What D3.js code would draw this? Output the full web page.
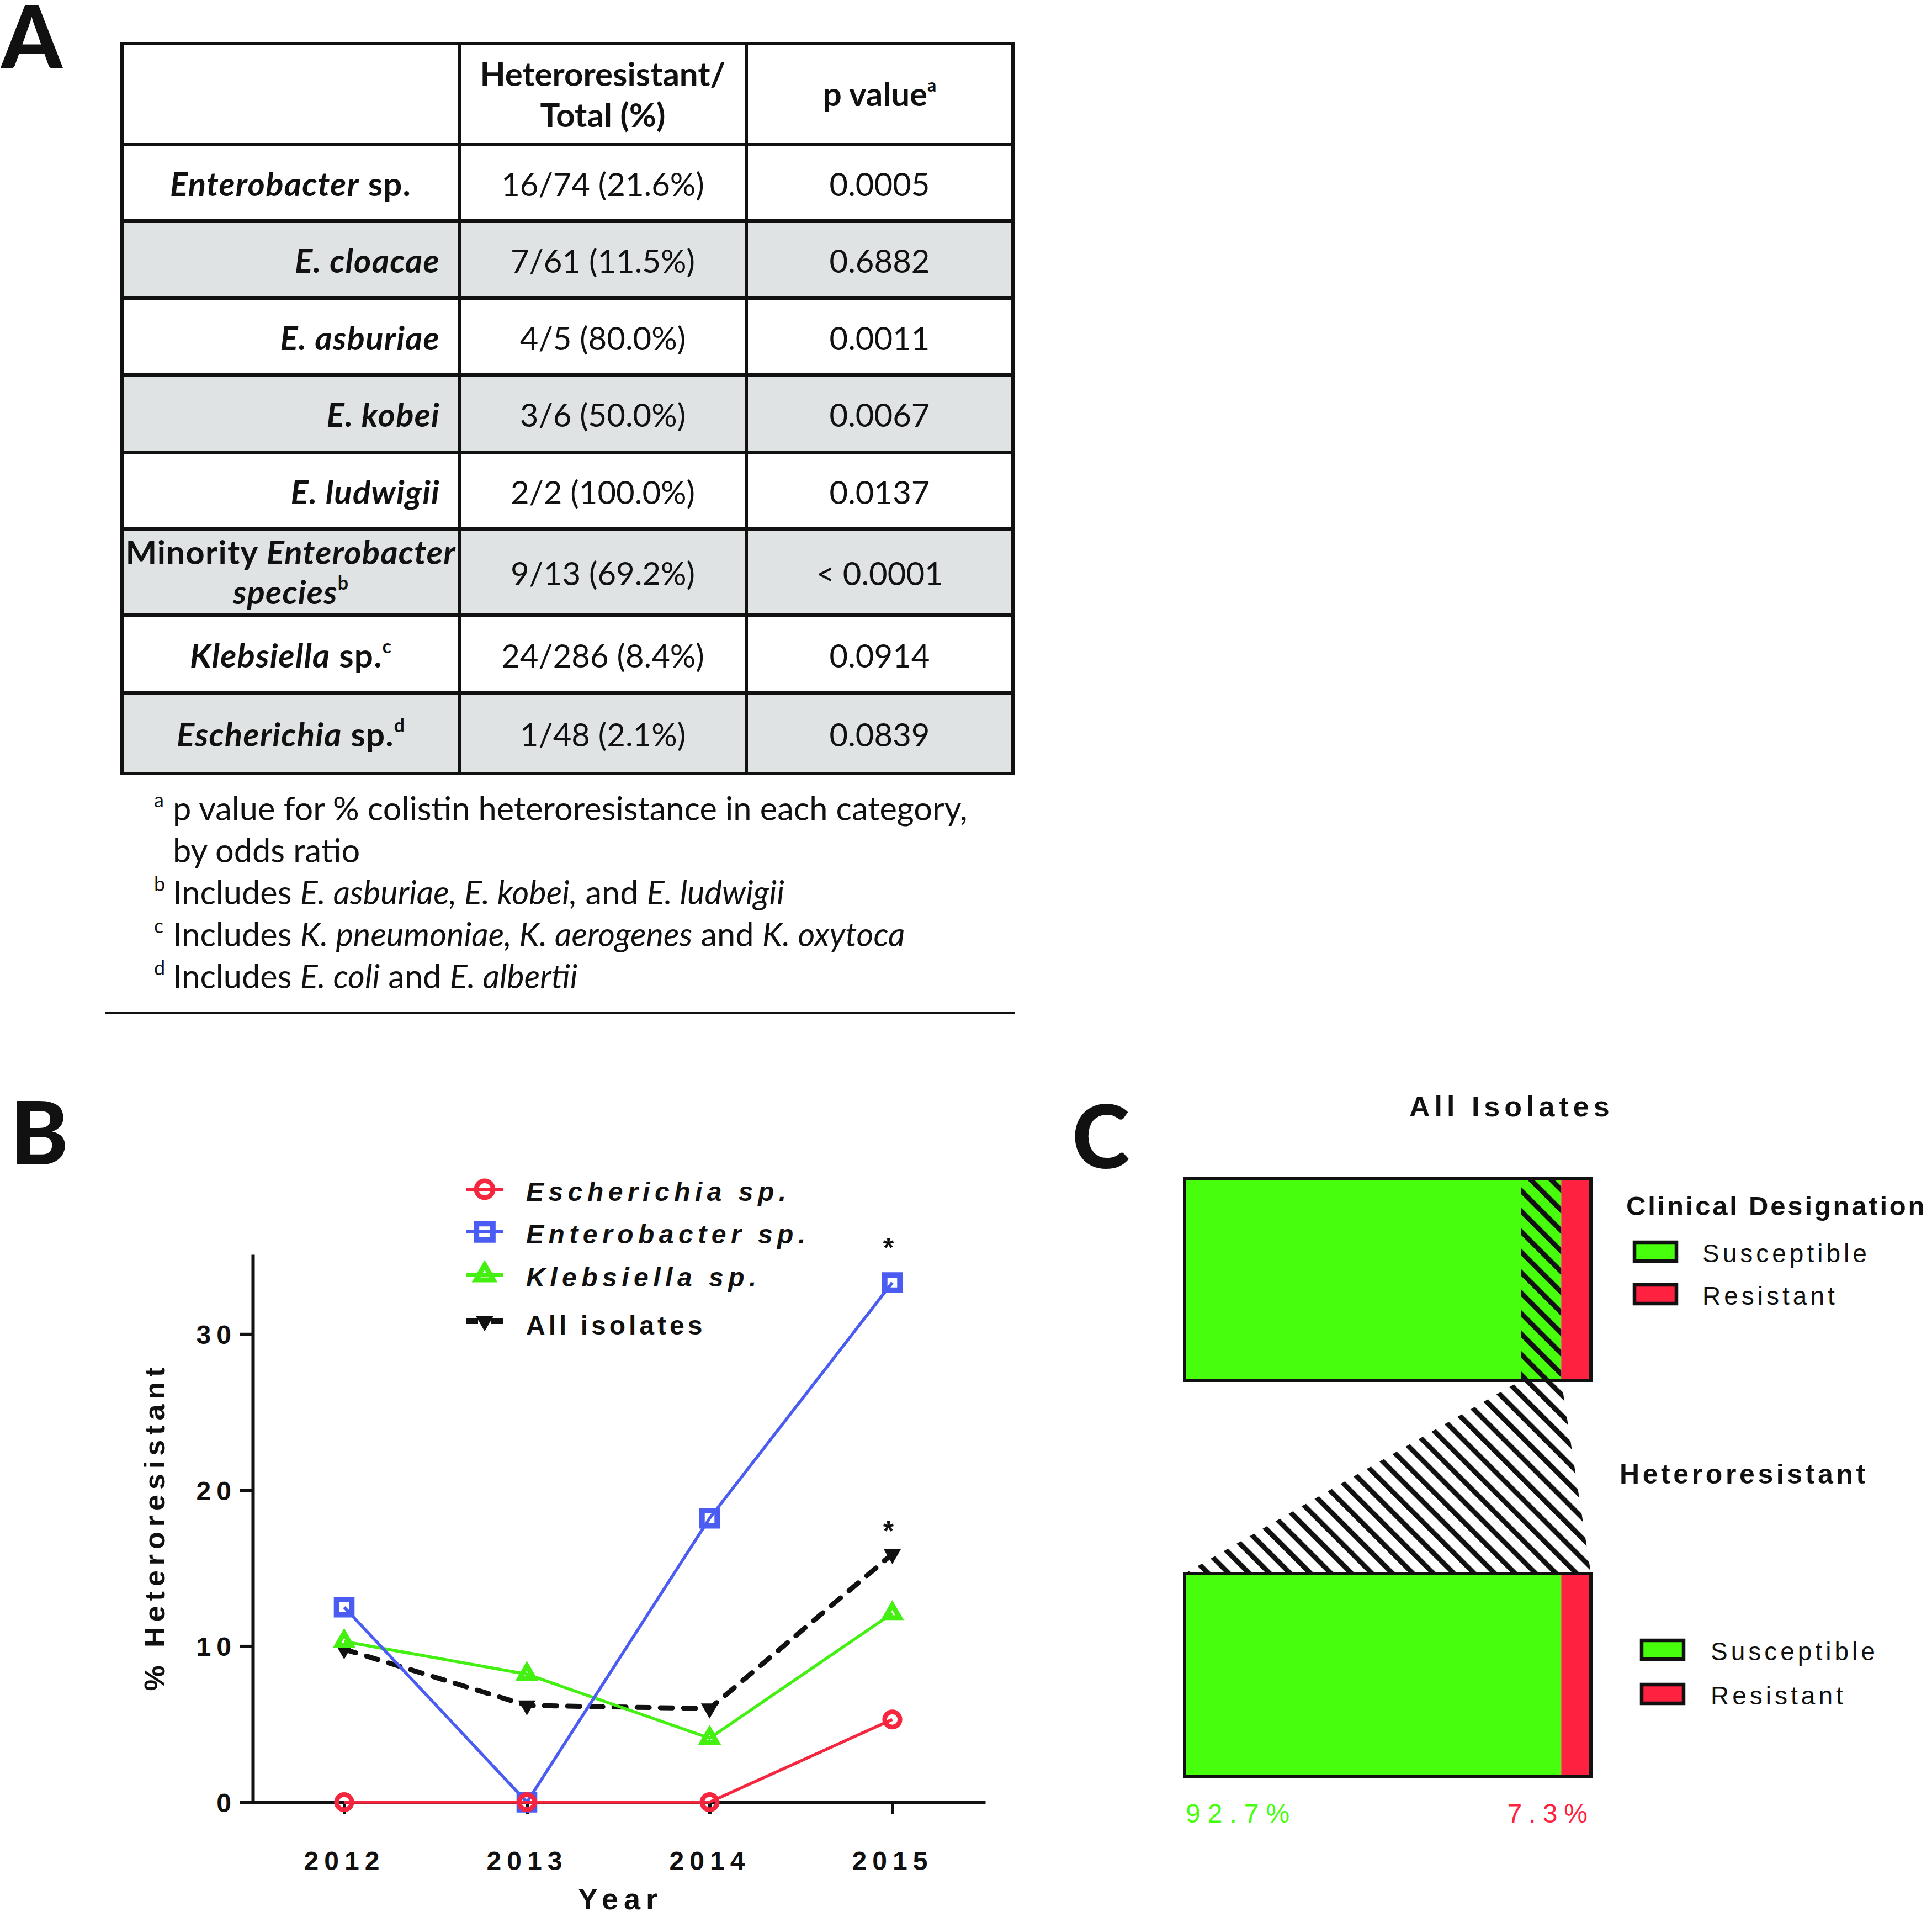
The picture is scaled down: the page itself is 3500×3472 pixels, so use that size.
<!DOCTYPE html>
<html>
<head>
<meta charset="utf-8">
<script src="https://cdn.jsdelivr.net/npm/d3@7"></script>
<style>
  body { margin: 0; background: #fff; }
  svg { display: block; }
  text { white-space: pre; }
</style>
</head>
<body>
<svg id="fig" width="3500" height="3472"></svg>
<script>
// ---------- panel A data ----------
// label parts: [text, style]  b = bold, i = italic, s = superscript
const speciesLabels = [
  [['Enterobacter', 'bi'], [' sp.', 'b']],
  [['E. cloacae', 'bi']],
  [['E. asburiae', 'bi']],
  [['E. kobei', 'bi']],
  [['E. ludwigii', 'bi']],
  [['Minority ', 'b'], ['Enterobacter', 'bi']],
  [['Klebsiella', 'bi'], [' sp.', 'b'], ['c', 'bs']],
  [['Escherichia', 'bi'], [' sp.', 'b'], ['d', 'bs']]
];
const heteroTotals = ['16/74 (21.6%)', '7/61 (11.5%)', '4/5 (80.0%)', '3/6 (50.0%)',
  '2/2 (100.0%)', '9/13 (69.2%)', '24/286 (8.4%)', '1/48 (2.1%)'];
const pValues = ['0.0005', '0.6882', '0.0011', '0.0067', '0.0137', '< 0.0001', '0.0914', '0.0839'];
const footnotes = [
  ['a', [['p value for % colistin heteroresistance in each category,', '']]],
  ['', [['by odds ratio', '']]],
  ['b', [['Includes ', ''], ['E. asburiae, E. kobei,', 'i'], [' and ', ''], ['E. ludwigii', 'i']]],
  ['c', [['Includes ', ''], ['K. pneumoniae, K. aerogenes', 'i'], [' and ', ''], ['K. oxytoca', 'i']]],
  ['d', [['Includes ', ''], ['E. coli', 'i'], [' and ', ''], ['E. albertii', 'i']]]
];

// ---------- panel B data ----------
const years = [2012, 2013, 2014, 2015];
const escherichiaPct = [0, 0, 0, 5.3];
const enterobacterPct = [12.5, 0, 18.2, 33.3];
const klebsiellaPct = [10.3, 8.2, 4.1, 12.1];
const allIsolatesPct = [9.8, 6.2, 6.0, 15.9];
const seriesNames = ['Escherichia sp.', 'Enterobacter sp.', 'Klebsiella sp.', 'All isolates'];
const yTickValues = [0, 10, 20, 30];

// ---------- panel C data ----------
const designations = ['Susceptible', 'Resistant'];
const clinicalPct = [92.7, 7.3];
const heteroresistantPct = [92.7, 7.3];
const heteroOfAllPct = 9.9;

const svg = d3.select('#fig');
const calibri = 'Lato, sans-serif';
const arial = '"Liberation Sans", Arial, sans-serif';

function rich(sel, parts, supSize) {
  parts.forEach(p => {
    const t = sel.append('tspan').text(p[0]);
    if (p[1].includes('b')) t.attr('font-weight', 'bold');
    if (p[1].includes('i')) t.attr('font-style', 'italic');
    if (p[1].includes('s')) t.attr('font-size', supSize || 34).attr('dy', -26).attr('letter-spacing', 0);
  });
  return sel;
}

// panel letters
[['A', 2, 124], ['B', 19, 2109], ['C', 1942, 2116]].forEach(l => {
  svg.append('text').attr('x', l[1]).attr('y', l[2]).text(l[0])
    .attr('font-family', calibri).attr('font-weight', 900).attr('font-size', 158).attr('fill', '#111');
});

// ================= PANEL A (table) =================
const colEdges = [221, 832, 1352, 1835];
const rowEdges = [79, 262, 400, 540, 679, 819, 958, 1114, 1255, 1401];
const tbl = svg.append('g').attr('font-family', calibri).attr('font-size', 58).attr('fill', '#111');

speciesLabels.forEach((lab, i) => {
  if (i % 2 === 1) {
    tbl.append('rect').attr('x', colEdges[0]).attr('y', rowEdges[i + 1])
      .attr('width', colEdges[3] - colEdges[0]).attr('height', rowEdges[i + 2] - rowEdges[i + 1])
      .attr('fill', '#dfe3e3');
  }
});

// header
const hx2 = (colEdges[1] + colEdges[2]) / 2, hx3 = (colEdges[2] + colEdges[3]) / 2;
tbl.append('text').attr('x', hx2).attr('y', 156).attr('text-anchor', 'middle').attr('font-weight', 'bold')
  .attr('font-size', 60).text('Heteroresistant/');
tbl.append('text').attr('x', hx2).attr('y', 230).attr('text-anchor', 'middle').attr('font-weight', 'bold')
  .attr('font-size', 60).text('Total (%)');
rich(tbl.append('text').attr('x', hx3).attr('y', 192).attr('text-anchor', 'middle').attr('font-size', 60),
  [['p value', 'b'], ['a', 'bs']], 32);

const labelX = (colEdges[0] + colEdges[1]) / 2;
speciesLabels.forEach((lab, i) => {
  const cy = (rowEdges[i + 1] + rowEdges[i + 2]) / 2;
  const base = cy + 24;
  const centred = i === 0 || i >= 5;
  if (i === 5) {
    rich(tbl.append('text').attr('x', labelX).attr('y', 1022).attr('text-anchor', 'middle')
      .attr('font-size', 60).attr('letter-spacing', 1.2), lab);
    rich(tbl.append('text').attr('x', labelX).attr('y', 1094).attr('text-anchor', 'middle')
      .attr('font-size', 60).attr('letter-spacing', 1.2), [['species', 'bi'], ['b', 'bs']]);
  } else {
    rich(tbl.append('text').attr('x', centred ? labelX : 797).attr('y', base)
      .attr('font-size', 60).attr('letter-spacing', 1.2)
      .attr('text-anchor', centred ? 'middle' : 'end'), lab);
  }
  tbl.append('text').attr('x', hx2).attr('y', base).attr('text-anchor', 'middle').text(heteroTotals[i]);
  tbl.append('text').attr('x', hx3).attr('y', base).attr('text-anchor', 'middle').text(pValues[i]);
});

rowEdges.forEach(y => {
  tbl.append('line').attr('x1', colEdges[0]).attr('x2', colEdges[3]).attr('y1', y).attr('y2', y)
    .attr('stroke', '#111').attr('stroke-width', 6).attr('stroke-linecap', 'square');
});
colEdges.forEach(x => {
  tbl.append('line').attr('x1', x).attr('x2', x).attr('y1', rowEdges[0]).attr('y2', rowEdges[rowEdges.length - 1])
    .attr('stroke', '#111').attr('stroke-width', 6).attr('stroke-linecap', 'square');
});

footnotes.forEach((f, i) => {
  const base = 1486 + i * 76;
  if (f[0]) tbl.append('text').attr('x', 279).attr('y', base - 24).attr('font-size', 36).text(f[0]);
  rich(tbl.append('text').attr('x', 313).attr('y', base).attr('font-size', 59.5), f[1]);
});
tbl.append('line').attr('x1', 190).attr('x2', 1838).attr('y1', 1834).attr('y2', 1834)
  .attr('stroke', '#111').attr('stroke-width', 4);

// ================= PANEL B (line chart) =================
const x = d3.scalePoint().domain(years).range([458, 1782]).padding(0.5);
const y = d3.scaleLinear().domain([0, 35]).range([3264, 2275]);
const gB = svg.append('g');

const yAxis = gB.append('g').attr('transform', 'translate(458,0)')
  .call(d3.axisLeft(y).tickValues(yTickValues).tickSizeInner(21).tickSizeOuter(0).tickPadding(8));
const xAxis = gB.append('g').attr('transform', 'translate(0,3264)')
  .call(d3.axisBottom(x).tickSizeInner(18).tickSizeOuter(0).tickPadding(71));
[yAxis, xAxis].forEach(ax => {
  ax.attr('font-family', arial).attr('font-size', 48).attr('font-weight', 'bold');
  ax.selectAll('path, line').attr('stroke', '#111').attr('stroke-width', 6).attr('stroke-linecap', 'square');
  ax.selectAll('text').attr('fill', '#111').attr('letter-spacing', 10);
});
yAxis.selectAll('text').attr('dy', '0.36em');

gB.append('text').attr('transform', 'translate(298,2765) rotate(-90)').attr('text-anchor', 'middle')
  .attr('font-family', arial).attr('font-weight', 'bold').attr('font-size', 52).attr('letter-spacing', 9)
  .attr('fill', '#111').text('% Heteroresistant');
gB.append('text').attr('x', 1124).attr('y', 3458).attr('text-anchor', 'middle')
  .attr('font-family', arial).attr('font-weight', 'bold').attr('font-size', 54).attr('letter-spacing', 10)
  .attr('fill', '#111').text('Year');

const seriesValues = [escherichiaPct, enterobacterPct, klebsiellaPct, allIsolatesPct];
const series = seriesNames.map((name, i) => ({ name, values: seriesValues[i] }));
const styles = [
  { color: '#f5263e', type: d3.symbolCircle, size: 600, fill: 'none', sw: 8.5, lw: 5.5 },
  { color: '#4a5cf2', type: d3.symbolSquare, size: 760, fill: 'none', sw: 10, lw: 5.5 },
  { color: '#44f012', type: d3.symbolTriangle, size: 300, fill: 'none', sw: 9, lw: 5.5 },
  { color: '#111111', type: d3.symbolTriangle, size: 430, fill: '#111111', sw: 0, lw: 9, dash: '22 20', flip: true, star: -52 }
];
styles[1].star = -73;

const line = d3.line().x((d, i) => x(years[i])).y(d => y(d));
[3, 2, 1, 0].forEach(si => {
  const s = series[si], st = styles[si];
  const g = gB.append('g');
  g.append('path').attr('d', line(s.values)).attr('fill', 'none').attr('stroke', st.color)
    .attr('stroke-width', st.lw).attr('stroke-dasharray', st.dash || null)
    .attr('stroke-linecap', st.dash ? 'round' : 'butt');
  g.selectAll('path.mark').data(s.values).enter().append('path').attr('class', 'mark')
    .attr('d', d3.symbol().type(st.type).size(st.size)())
    .attr('transform', (d, i) => `translate(${x(years[i])},${y(d)})${st.flip ? ' rotate(180)' : ''}`)
    .attr('fill', st.fill).attr('stroke', st.sw ? st.color : 'none').attr('stroke-width', st.sw);
  if (st.star) {
    const last = s.values.length - 1;
    g.append('text').attr('x', x(years[last]) - 7).attr('y', y(s.values[last]) + st.star + 27)
      .attr('text-anchor', 'middle').attr('font-family', arial).attr('font-weight', 'bold')
      .attr('font-size', 50).attr('fill', '#111').text('*');
  }
});

// legend B
const legRows = [2154, 2231, 2309, 2393];
series.forEach((s, i) => {
  const st = styles[i], ly = legRows[i];
  const g = gB.append('g');
  g.append('line').attr('x1', 844).attr('x2', 912).attr('y1', ly).attr('y2', ly)
    .attr('stroke', st.color).attr('stroke-width', st.dash ? 10 : 6)
    .attr('stroke-dasharray', st.dash ? '22 24' : null);
  g.append('path').attr('d', d3.symbol().type(st.type).size(st.size + (st.dash ? 0 : 120))())
    .attr('transform', `translate(878,${ly})${st.flip ? ' rotate(180)' : ''}`)
    .attr('fill', st.fill).attr('stroke', st.sw ? st.color : 'none').attr('stroke-width', st.sw);
  g.append('text').attr('x', 953).attr('y', ly + (st.dash ? 24 : 21)).text(s.name)
    .attr('font-family', arial).attr('font-weight', 'bold').attr('font-size', 48)
    .attr('font-style', st.dash ? 'normal' : 'italic').attr('letter-spacing', st.dash ? 6 : 8.5)
    .attr('fill', '#111');
});

// ================= PANEL C (stacked bars) =================
const cGreen = '#47ff0c', cRed = '#ff2140';
const colorC = d3.scaleOrdinal().domain(designations).range([cGreen, cRed]);
const xc = d3.scaleLinear().domain([0, 100]).range([2146, 2882]);
const gC = svg.append('g');

const defs = svg.append('defs');
defs.append('pattern').attr('id', 'hatch').attr('patternUnits', 'userSpaceOnUse')
  .attr('width', 26.2).attr('height', 26.2).attr('patternTransform', 'rotate(-45)')
  .append('rect').attr('x', 0).attr('y', 0).attr('width', 9).attr('height', 26.2).attr('fill', '#111');

function stackBar(pcts, y0, y1) {
  let acc = 0;
  const segs = pcts.map((p, i) => { const s = { name: designations[i], a: acc, b: acc + p }; acc += p; return s; });
  gC.selectAll(null).data(segs).enter().append('rect')
    .attr('x', d => xc(d.a)).attr('width', d => xc(d.b) - xc(d.a))
    .attr('y', y0).attr('height', y1 - y0).attr('fill', d => colorC(d.name));
  return segs;
}
const topY = [2134, 2500], botY = [2850, 3217];
stackBar(clinicalPct, topY[0], topY[1]);
stackBar(heteroresistantPct, botY[0], botY[1]);

const hetA = clinicalPct[0] - heteroOfAllPct, hetB = clinicalPct[0];
gC.append('rect').attr('x', xc(hetA)).attr('width', xc(hetB) - xc(hetA))
  .attr('y', topY[0]).attr('height', topY[1] - topY[0]).attr('fill', 'url(#hatch)');
gC.append('path')
  .attr('d', d3.line()([[xc(hetA), topY[1]], [xc(hetB), topY[1]], [xc(100), botY[0]], [xc(0), botY[0]]]) + 'Z')
  .attr('fill', 'url(#hatch)');

[topY, botY].forEach(b => {
  gC.append('rect').attr('x', xc(0)).attr('y', b[0]).attr('width', xc(100) - xc(0)).attr('height', b[1] - b[0])
    .attr('fill', 'none').attr('stroke', '#111').attr('stroke-width', 6);
});

const fmt = d => d3.format('.1f')(d) + '%';
gC.append('text').attr('x', xc(0) + 2).attr('y', 3301).text(fmt(heteroresistantPct[0]))
  .attr('font-family', arial).attr('font-size', 48).attr('letter-spacing', 13).attr('fill', cGreen);
gC.append('text').attr('x', xc(100) + 6).attr('y', 3301).attr('text-anchor', 'end').text(fmt(heteroresistantPct[1]))
  .attr('font-family', arial).attr('font-size', 48).attr('letter-spacing', 12).attr('fill', cRed);

gC.append('text').attr('x', 2553).attr('y', 2022).text('All Isolates')
  .attr('font-family', arial).attr('font-weight', 'bold').attr('font-size', 52).attr('letter-spacing', 8).attr('fill', '#111');
gC.append('text').attr('x', 2946).attr('y', 2201).text('Clinical Designation')
  .attr('font-family', arial).attr('font-weight', 'bold').attr('font-size', 49).attr('letter-spacing', 3.8).attr('fill', '#111');
gC.append('text').attr('x', 2934).attr('y', 2687).text('Heteroresistant')
  .attr('font-family', arial).attr('font-weight', 'bold').attr('font-size', 50).attr('letter-spacing', 5.6).attr('fill', '#111');

function legendC(x0, tx, ys) {
  designations.forEach((name, i) => {
    gC.append('rect').attr('x', x0).attr('y', ys[i] - 36).attr('width', 76).attr('height', 34)
      .attr('fill', colorC(name)).attr('stroke', '#111').attr('stroke-width', 6.5);
    gC.append('text').attr('x', tx).attr('y', ys[i]).text(name)
      .attr('font-family', arial).attr('font-size', 46).attr('letter-spacing', 6).attr('fill', '#111');
  });
}
legendC(2961, 3084, [2286, 2363]);
legendC(2974, 3099, [3007, 3087]);
</script>
</body>
</html>
